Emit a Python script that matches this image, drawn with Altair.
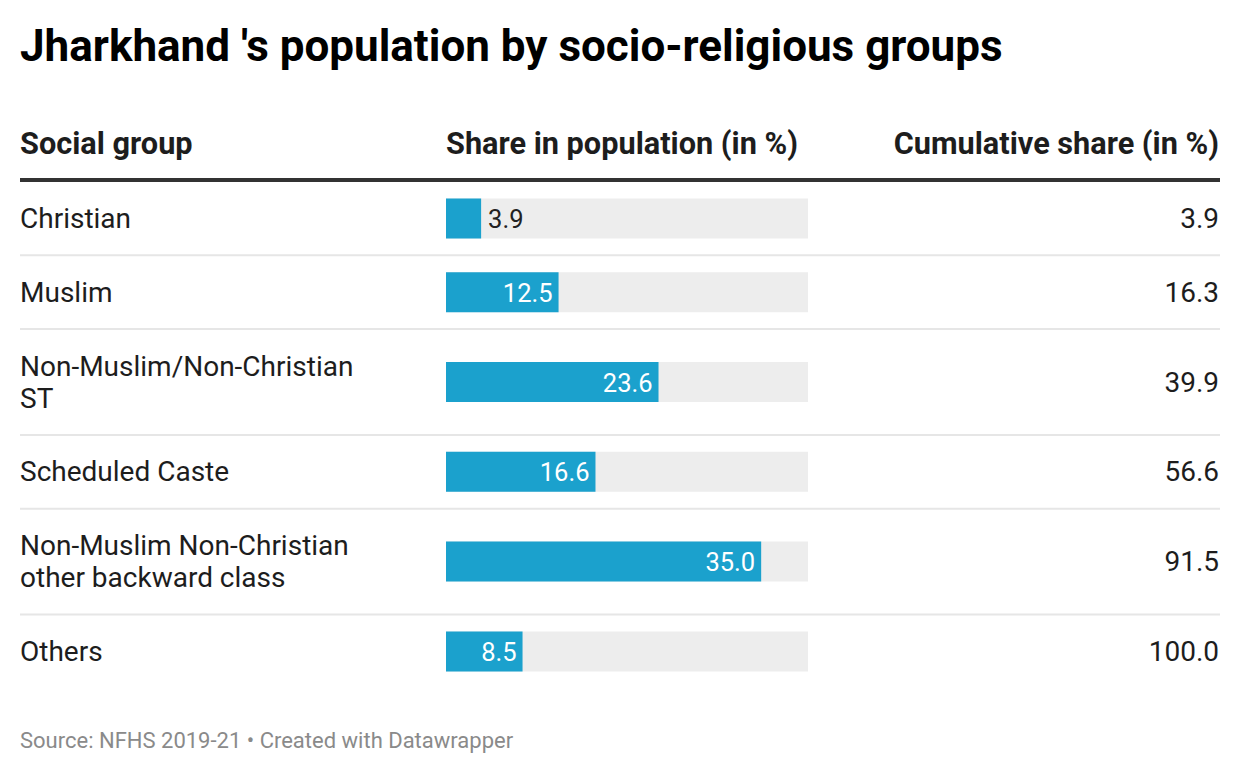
import altair as alt
import pandas as pd

# ---- data ----
groups = [
    "Christian",
    "Muslim",
    "Non-Muslim/Non-Christian\nST",
    "Scheduled Caste",
    "Non-Muslim Non-Christian\nother backward class",
    "Others",
]
share = [3.9, 12.5, 23.6, 16.6, 35.0, 8.5]
cumulative = [3.9, 16.3, 39.9, 56.6, 91.5, 100.0]

TITLE = "Jharkhand 's population by socio-religious groups"
HEADERS = ["Social group", "Share in population (in %)", "Cumulative share (in %)"]
SOURCE = "Source: NFHS 2019-21 \u2022 Created with Datawrapper"

# ---- layout ----
W, H = 1240, 774
FONT = "Roboto"
TABLE_TOP = 181.5
ROW_H = 73.8
EXTRA_LINE = 32
LINE_H = 32
BAR_H = 40
BAR_MAX = 40.2
LEFT, BAR_X0, BAR_X1, RIGHT = 20, 446, 808, 1219
INSIDE_MIN = 6
TEXT_DY = 1.5

recs = []
top = TABLE_TOP
for g, s, c in zip(groups, share, cumulative):
    n = g.count("\n") + 1
    h = ROW_H + EXTRA_LINE * (n - 1)
    mid = top + h / 2
    recs.append(dict(group=g, share=s, cum=c, top=top, bottom=top + h, mid=mid,
                     tmid=mid - (n - 1) * LINE_H / 2,
                     b0=mid - BAR_H / 2, b1=mid + BAR_H / 2, bgmax=BAR_MAX,
                     label=f"{s:.1f}", cumlabel=f"{c:.1f}", inside=s > INSIDE_MIN,
                     last=(g == groups[-1])))
    top += h
df = pd.DataFrame(recs)

xs = alt.Scale(domain=[0, BAR_MAX], range=[BAR_X0, BAR_X1])
ys = alt.Scale(domain=[0, H], range=[0, H])

base = alt.Chart(df)

bg = base.mark_bar(color="#ededed").encode(
    x=alt.X("zero:Q", scale=xs, axis=None),
    x2="bgmax:Q",
    y=alt.Y("b0:Q", scale=ys, axis=None),
    y2="b1:Q",
).transform_calculate(zero="0")

bars = base.mark_bar(color="#1ba1cd").encode(
    x=alt.X("zero:Q", scale=xs, axis=None),
    x2="share:Q",
    y=alt.Y("b0:Q", scale=ys, axis=None),
    y2="b1:Q",
).transform_calculate(zero="0")

lab_in = base.transform_filter("datum.inside").mark_text(
    align="right", baseline="middle", dx=-6, dy=TEXT_DY, font=FONT, fontSize=25.5, color="white"
).encode(
    x=alt.X("share:Q", scale=xs, axis=None),
    y=alt.Y("mid:Q", scale=ys, axis=None),
    text="label:N",
)
lab_out = base.transform_filter("!datum.inside").mark_text(
    align="left", baseline="middle", dx=7, dy=TEXT_DY, font=FONT, fontSize=25.5, color="#222222"
).encode(
    x=alt.X("share:Q", scale=xs, axis=None),
    y=alt.Y("mid:Q", scale=ys, axis=None),
    text="label:N",
)

names = base.mark_text(
    align="left", baseline="middle", dy=TEXT_DY, font=FONT, fontSize=28, color="#1d1d1d",
    lineBreak="\n", lineHeight=LINE_H,
).encode(
    x=alt.value(LEFT),
    y=alt.Y("tmid:Q", scale=ys, axis=None),
    text="group:N",
)

cums = base.mark_text(
    align="right", baseline="middle", dy=TEXT_DY, font=FONT, fontSize=28, color="#1d1d1d",
).encode(
    x=alt.value(RIGHT),
    y=alt.Y("mid:Q", scale=ys, axis=None),
    text="cumlabel:N",
)

seps = base.transform_filter("!datum.last").mark_rule(color="#e6e6e6", strokeWidth=2).encode(
    x=alt.value(LEFT),
    x2=alt.value(RIGHT + 1),
    y=alt.Y("bottom:Q", scale=ys, axis=None),
)

head_rule = alt.Chart(pd.DataFrame({"a": [0]})).mark_rule(color="#333333", strokeWidth=4).encode(
    x=alt.value(LEFT), x2=alt.value(RIGHT + 1), y=alt.value(TABLE_TOP - 1.5)
)

hdf = pd.DataFrame({"t": HEADERS})
def header(i, x, align):
    return alt.Chart(hdf).transform_filter(f"datum.t == {HEADERS[i]!r}").mark_text(
        align=align, baseline="alphabetic", font=FONT, fontSize=30.7, fontWeight="bold", color="#1d1d1d"
    ).encode(x=alt.value(x), y=alt.value(154), text="t:N")

h1 = header(0, LEFT, "left")
h2 = header(1, BAR_X0, "left")
h3 = header(2, RIGHT, "right")

title = alt.Chart(pd.DataFrame({"t": [TITLE]})).mark_text(
    align="left", baseline="alphabetic", font=FONT, fontSize=44, fontWeight="bold", color="#000000"
).encode(x=alt.value(LEFT), y=alt.value(61), text="t:N")

source = alt.Chart(pd.DataFrame({"t": [SOURCE]})).mark_text(
    align="left", baseline="alphabetic", font=FONT, fontSize=22, color="#8a8a8a"
).encode(x=alt.value(LEFT), y=alt.value(748), text="t:N")

chart = alt.layer(
    bg, bars, lab_in, lab_out, names, cums, seps, head_rule, h1, h2, h3, title, source
).properties(
    width=W, height=H, padding=0, autosize=alt.AutoSizeParams(type="none"),
    background="white",
).configure_view(stroke=None)

chart.save("out.html", embed_options={"renderer": "svg", "actions": False})
